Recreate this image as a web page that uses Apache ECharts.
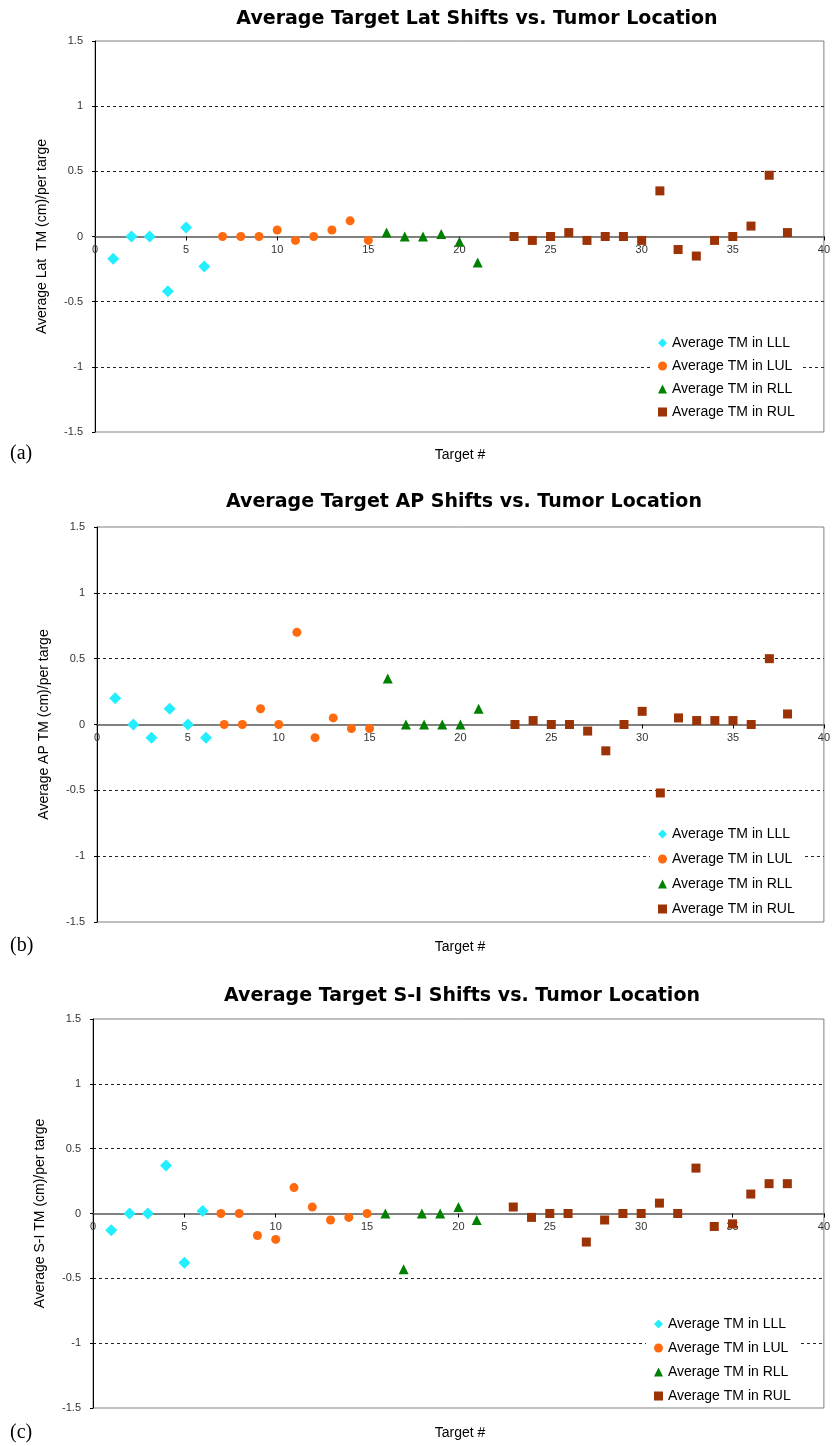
<!DOCTYPE html>
<html>
<head>
<meta charset="utf-8">
<script src="https://cdn.jsdelivr.net/npm/echarts@6/dist/echarts.min.js"></script>
<style>
html,body{margin:0;padding:0;background:#fff;}
#chart{width:833px;height:1446px;}
</style>
</head>
<body>
<div id="chart"></div>
<script>
// ---- Data ----
const lllTargets = [1, 2, 3, 4, 5, 6];
const lulTargets = [7, 8, 9, 10, 11, 12, 13, 14, 15];
const rllTargets = [16, 17, 18, 19, 20, 21];
const rulTargets = [23, 24, 25, 26, 27, 28, 29, 30, 31, 32, 33, 34, 35, 36, 37, 38];

const seriesNames = ['Average TM in LLL', 'Average TM in LUL', 'Average TM in RLL', 'Average TM in RUL'];

// (a) Lat
const latLLL = [-0.17, 0, 0, -0.42, 0.07, -0.23];
const latLUL = [0, 0, 0, 0.05, -0.03, 0, 0.05, 0.12, -0.03];
const latRLL = [0.03, 0, 0, 0.02, -0.04, -0.2];
const latRUL = [0, -0.03, 0, 0.03, -0.03, 0, 0, -0.03, 0.35, -0.1, -0.15, -0.03, 0, 0.08, 0.47, 0.03];

// (b) AP
const apLLL = [0.2, 0, -0.1, 0.12, 0, -0.1];
const apLUL = [0, 0, 0.12, 0, 0.7, -0.1, 0.05, -0.03, -0.03];
const apRLL = [0.35, 0, 0, 0, 0, 0.12];
const apRUL = [0, 0.03, 0, 0, -0.05, -0.2, 0, 0.1, -0.52, 0.05, 0.03, 0.03, 0.03, 0, 0.5, 0.08];

// (c) S-I
const siLLL = [-0.13, 0, 0, 0.37, -0.38, 0.02];
const siLUL = [0, 0, -0.17, -0.2, 0.2, 0.05, -0.05, -0.03, 0];
const siRLL = [0, -0.43, 0, 0, 0.05, -0.05];
const siRUL = [0.05, -0.03, 0, 0, -0.22, -0.05, 0, 0, 0.08, 0, 0.35, -0.1, -0.08, 0.15, 0.23, 0.23];

const chartTitles = [
  'Average Target Lat Shifts vs. Tumor Location',
  'Average Target AP Shifts vs. Tumor Location',
  'Average Target S-I Shifts vs. Tumor Location'
];
const yNames = [
  'Average Lat  TM (cm)/per targe',
  'Average AP TM (cm)/per targe',
  'Average S-I TM (cm)/per targe'
];
const xName = 'Target #';
const panelLabels = ['(a)', '(b)', '(c)'];

// ---- Layout / style ----
const sans = 'Liberation Sans, Arial, sans-serif';
const grids = [
  {left: 95, top: 41, width: 730, height: 391},
  {left: 97, top: 527, width: 728, height: 395},
  {left: 93, top: 1019, width: 731, height: 389}
];
const titleCenters = [[477, 10], [464, 493], [462, 987]];
const xNamePos = [[460, 448], [460, 940], [460, 1426]];
const panelPos = [[10, 444], [10, 936], [10, 1423]];
const legendPos = [[650, 332, 9], [650, 823, 11], [646, 1313, 10]];

const styles = [
  {symbol: 'diamond', size: 12, color: '#22EEFF', icon: 'diamond'},
  {symbol: 'circle', size: 9, color: '#FF6A0E', icon: 'circle'},
  {symbol: 'triangle', size: 10, color: '#008000', icon: 'triangle'},
  {symbol: 'rect', size: 9, color: '#9C3306', icon: 'rect'}
];

const targets = [lllTargets, lulTargets, rllTargets, rulTargets];
const panels = [
  [latLLL, latLUL, latRLL, latRUL],
  [apLLL, apLUL, apRLL, apRUL],
  [siLLL, siLUL, siRLL, siRUL]
];

const option = {
  animation: false,
  backgroundColor: '#fff',
  title: [],
  grid: [],
  xAxis: [],
  yAxis: [],
  legend: [],
  series: []
};

for (let i = 0; i < 3; i++) {
  option.grid.push(Object.assign({show: true, borderColor: '#7f7f7f', borderWidth: 1, backgroundColor: 'transparent'}, grids[i]));
  option.title.push({
    text: chartTitles[i], left: titleCenters[i][0], top: titleCenters[i][1], textAlign: 'center', padding: 0,
    textStyle: {fontSize: 19, fontWeight: 'bold', fontFamily: 'DejaVu Sans, Verdana, sans-serif', color: '#000'}
  });
  option.title.push({
    text: xName, left: xNamePos[i][0], top: xNamePos[i][1], textAlign: 'center', padding: 0,
    textStyle: {fontSize: 14, fontWeight: 'normal', fontFamily: sans, color: '#000'}
  });
  option.title.push({
    text: panelLabels[i], left: panelPos[i][0], top: panelPos[i][1], padding: 0,
    textStyle: {fontSize: 20, fontWeight: 'normal', fontFamily: 'Liberation Serif, Times New Roman, serif', color: '#000'}
  });
  option.xAxis.push({
    gridIndex: i, type: 'value', min: 0, max: 40, interval: 5,
    position: 'bottom', offset: -grids[i].height / 2,
    axisLine: {show: true, onZero: false, lineStyle: {color: '#808080', width: 2}},
    axisTick: {show: true, length: 4, lineStyle: {color: '#000', width: 1}},
    axisLabel: {fontSize: 11, color: '#333', fontFamily: sans, margin: 8},
    splitLine: {show: false}
  });
  option.yAxis.push({
    gridIndex: i, type: 'value', min: -1.5, max: 1.5, interval: 0.5,
    name: yNames[i], nameLocation: 'middle', nameGap: 46,
    nameTextStyle: {fontSize: 14, color: '#000', fontFamily: sans},
    axisLine: {show: true, onZero: false, lineStyle: {color: '#000', width: 1}},
    axisTick: {show: true, length: 3, lineStyle: {color: '#000'}},
    axisLabel: {fontSize: 11, color: '#333', fontFamily: sans, margin: 12},
    splitLine: {show: true, showMinLine: false, showMaxLine: false, lineStyle: {color: '#222', type: [3, 3], width: 1}}
  });
  option.legend.push({
    orient: 'vertical', left: legendPos[i][0], top: legendPos[i][1],
    itemWidth: 9, itemHeight: 9, itemGap: legendPos[i][2],
    padding: [4, 8, 4, 8], backgroundColor: '#fff',
    textStyle: {fontSize: 14, fontFamily: sans, color: '#000', lineHeight: 14},
    data: seriesNames.map((n, k) => ({name: n, icon: styles[k].icon}))
  });
  for (let k = 0; k < 4; k++) {
    option.series.push({
      name: seriesNames[k], type: 'scatter', xAxisIndex: i, yAxisIndex: i,
      symbol: styles[k].symbol, symbolSize: styles[k].size,
      itemStyle: {color: styles[k].color, opacity: 1},
      data: targets[k].map((t, j) => [t, panels[i][k][j]])
    });
  }
}

const chart = echarts.init(document.getElementById('chart'), null, {renderer: 'canvas'});
chart.setOption(option);
</script>
</body>
</html>
